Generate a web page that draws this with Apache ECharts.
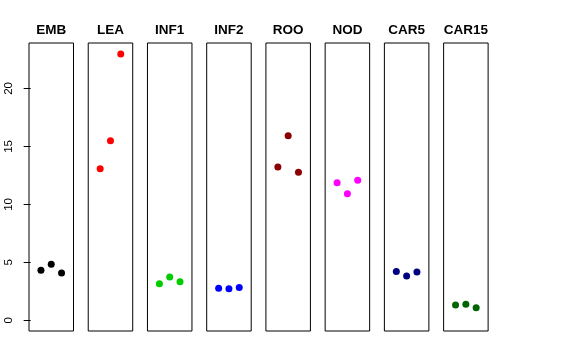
<!DOCTYPE html>
<html><head><meta charset="utf-8">
<script src="https://cdn.jsdelivr.net/npm/echarts@6/dist/echarts.min.js"></script>
<style>html,body{margin:0;padding:0;background:#fff}#c{width:576px;height:360px}</style>
</head><body><div id="c"></div>
<script>
var categories = ["EMB","LEA","INF1","INF2","ROO","NOD","CAR5","CAR15"];
var valEMB   = [4.31, 4.83, 4.08];
var valLEA   = [13.07, 15.48, 22.98];
var valINF1  = [3.16, 3.73, 3.33];
var valINF2  = [2.76, 2.72, 2.84];
var valROO   = [13.22, 15.91, 12.78];
var valNOD   = [11.86, 10.91, 12.09];
var valCAR5  = [4.22, 3.82, 4.16];
var valCAR15 = [1.32, 1.38, 1.09];
var yTicks = [0, 5, 10, 15, 20];
var reps = [1, 2, 3];

var values = [valEMB, valLEA, valINF1, valINF2, valROO, valNOD, valCAR5, valCAR15];
var colors = ["#000000","#FF0000","#00CD00","#0000FF","#8B0000","#FF00FF","#000080","#006400"];

var grids = [], xAxes = [], yAxes = [], series = [], titles = [];
var L0 = 29, step = 59.23, W = 44.5, TOP = 43, H = 288;
categories.forEach(function(cat, i){
  var left = L0 + i*step;
  grids.push({left: left, top: TOP, width: W, height: H, show: true, borderColor: '#000', borderWidth: 1, backgroundColor: 'transparent'});
  xAxes.push({type: 'value', gridIndex: i, min: -0.16, max: 4.16, show: false});
  yAxes.push({
    type: 'value', gridIndex: i, min: -0.92, max: 23.92,
    splitLine: {show: false},
    axisLine: {show: false},
    axisTick: {show: i === 0, length: 7, inside: false, customValues: yTicks, lineStyle: {color: '#000', width: 1}},
    axisLabel: {show: i === 0, customValues: yTicks, rotate: 90, margin: 14, color: '#000', fontSize: 11.5, fontFamily: 'Liberation Sans, Arial, sans-serif'}
  });
  series.push({
    type: 'scatter', xAxisIndex: i, yAxisIndex: i,
    symbol: 'circle', symbolSize: 7,
    itemStyle: {color: colors[i], opacity: 1},
    data: values[i].map(function(v, k){ return [reps[k], v]; }),
    silent: true, animation: false
  });
  titles.push({
    text: cat, left: left + W/2, top: 23, textAlign: 'center', padding: 0,
    textStyle: {fontSize: 13.5, fontWeight: 'bold', color: '#000', fontFamily: 'Liberation Sans, Arial, sans-serif'}
  });
});

var chart = echarts.init(document.getElementById('c'), null, {renderer: 'canvas'});
chart.setOption({
  animation: false,
  backgroundColor: '#fff',
  title: titles,
  grid: grids,
  xAxis: xAxes,
  yAxis: yAxes,
  series: series
});
</script></body></html>
